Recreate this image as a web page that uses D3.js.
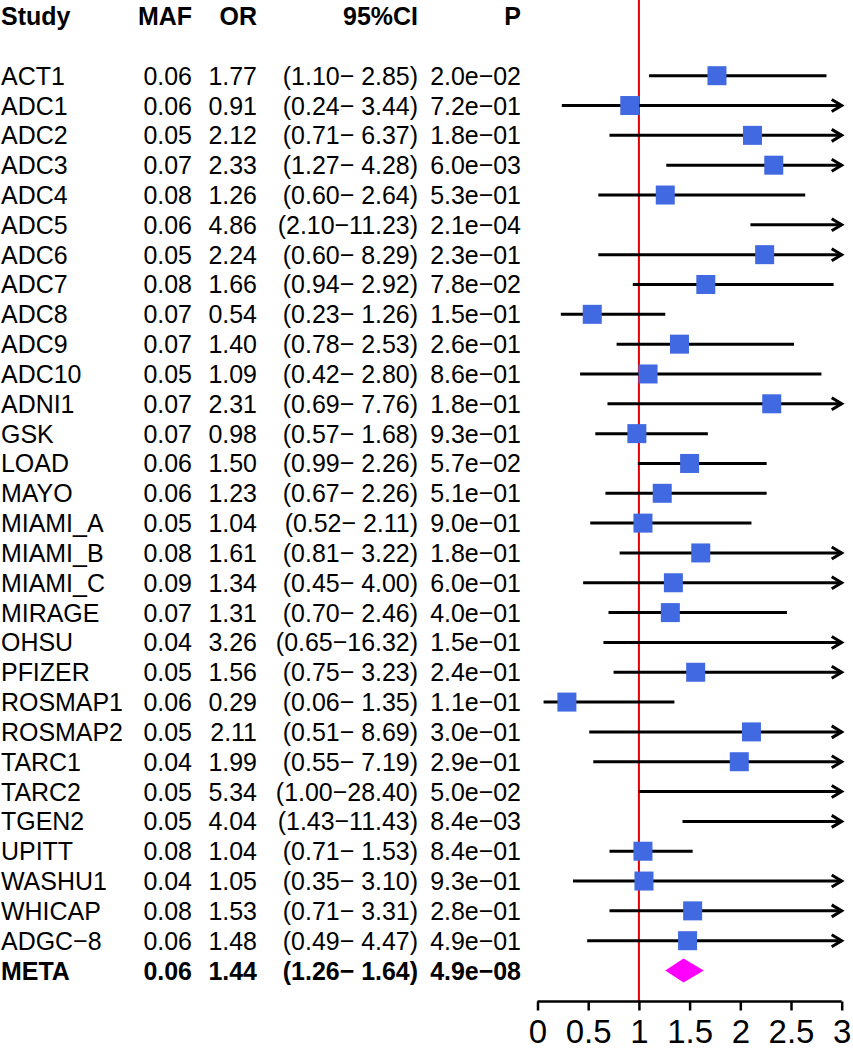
<!DOCTYPE html>
<html><head><meta charset="utf-8">
<script src="https://cdn.jsdelivr.net/npm/d3@7/dist/d3.min.js"></script>
<style>
html,body{margin:0;padding:0;background:#fff;}
svg{display:block;font-family:"Liberation Sans",Arial,sans-serif;}
</style></head>
<body>
<svg id="chart" width="853" height="1050"></svg>
<script>
const studies = ["ACT1","ADC1","ADC2","ADC3","ADC4","ADC5","ADC6","ADC7","ADC8","ADC9","ADC10","ADNI1","GSK","LOAD","MAYO","MIAMI_A","MIAMI_B","MIAMI_C","MIRAGE","OHSU","PFIZER","ROSMAP1","ROSMAP2","TARC1","TARC2","TGEN2","UPITT","WASHU1","WHICAP","ADGC\u22128","META"];
const maf = [0.06,0.06,0.05,0.07,0.08,0.06,0.05,0.08,0.07,0.07,0.05,0.07,0.07,0.06,0.06,0.05,0.08,0.09,0.07,0.04,0.05,0.06,0.05,0.04,0.05,0.05,0.08,0.04,0.08,0.06,0.06];
const oddsRatio = [1.77,0.91,2.12,2.33,1.26,4.86,2.24,1.66,0.54,1.40,1.09,2.31,0.98,1.50,1.23,1.04,1.61,1.34,1.31,3.26,1.56,0.29,2.11,1.99,5.34,4.04,1.04,1.05,1.53,1.48,1.44];
const ciLow = [1.10,0.24,0.71,1.27,0.60,2.10,0.60,0.94,0.23,0.78,0.42,0.69,0.57,0.99,0.67,0.52,0.81,0.45,0.70,0.65,0.75,0.06,0.51,0.55,1.00,1.43,0.71,0.35,0.71,0.49,1.26];
const ciHigh = [2.85,3.44,6.37,4.28,2.64,11.23,8.29,2.92,1.26,2.53,2.80,7.76,1.68,2.26,2.26,2.11,3.22,4.00,2.46,16.32,3.23,1.35,8.69,7.19,28.40,11.43,1.53,3.10,3.31,4.47,1.64];
const pValues = ["2.0e\u221202","7.2e\u221201","1.8e\u221201","6.0e\u221203","5.3e\u221201","2.1e\u221204","2.3e\u221201","7.8e\u221202","1.5e\u221201","2.6e\u221201","8.6e\u221201","1.8e\u221201","9.3e\u221201","5.7e\u221202","5.1e\u221201","9.0e\u221201","1.8e\u221201","6.0e\u221201","4.0e\u221201","1.5e\u221201","2.4e\u221201","1.1e\u221201","3.0e\u221201","2.9e\u221201","5.0e\u221202","8.4e\u221203","8.4e\u221201","9.3e\u221201","2.8e\u221201","4.9e\u221201","4.9e\u221208"];
const headers = ["Study","MAF","OR","95%CI","P"];
const tickValues = [0,0.5,1,1.5,2,2.5,3];
const metaLabel = "META";

const svg = d3.select("#chart");
const x = d3.scaleLinear().domain([0,3]).range([537.5,841.7]);
const y = d3.scaleLinear().domain([0,29]).range([75.7,940.7]);
const fs = 26;
const sx = 0.96;
const colRight = {maf:192, or:257, ci:418, p:521};
const minus = "\u2212";
const pad5 = v => { const s = v.toFixed(2); return s.length < 5 ? " " + s : s; };

function txt(g, xx, yy, str, anchor) {
  return g.append("text")
    .attr("transform", `translate(${xx},${yy}) scale(${sx},1)`)
    .attr("text-anchor", anchor || "start")
    .style("white-space","pre")
    .text(str);
}

// headers
const hy = 25;
const hg = svg.append("g").attr("font-weight","bold").attr("font-size",fs);
txt(hg, 1, hy, headers[0]);
txt(hg, colRight.maf, hy, headers[1], "end");
txt(hg, colRight.or, hy, headers[2], "end");
txt(hg, colRight.ci, hy, headers[3], "end");
txt(hg, colRight.p, hy, headers[4], "end");

// red reference line
svg.append("line").attr("x1",x(1)).attr("x2",x(1)).attr("y1",0).attr("y2",1001)
  .attr("stroke","#e00000").attr("stroke-width",2);

// rows
studies.forEach((s,i)=>{
  const yy = y(i);
  const isMeta = s === metaLabel;
  const g = svg.append("g").attr("font-size",fs).attr("font-weight", isMeta ? "bold" : "normal");
  const by = yy + 9;
  txt(g, 1, by, s);
  txt(g, colRight.maf, by, maf[i].toFixed(2), "end");
  txt(g, colRight.or, by, oddsRatio[i].toFixed(2), "end");
  txt(g, colRight.ci, by, "(" + ciLow[i].toFixed(2) + minus + pad5(ciHigh[i]) + ")", "end");
  txt(g, colRight.p, by, pValues[i], "end");

  if (isMeta) {
    const xl = x(ciLow[i]), xr = x(ciHigh[i]), xm = x(oddsRatio[i]);
    svg.append("path").attr("d",`M${xl},${yy} L${xm},${yy-12} L${xr},${yy} L${xm},${yy+12} Z`)
      .attr("fill","#ff00ff");
  } else {
    const lo = Math.max(ciLow[i],0), hi = Math.min(ciHigh[i],3);
    svg.append("line").attr("x1",x(lo)).attr("x2",x(hi)).attr("y1",yy).attr("y2",yy)
      .attr("stroke","#000").attr("stroke-width",3);
    if (ciHigh[i] > 3) {
      const tx = x(3);
      svg.append("path").attr("d",`M${tx-10},${yy-6} L${tx},${yy} L${tx-10},${yy+6}`)
        .attr("fill","none").attr("stroke","#000").attr("stroke-width",3);
    }
    if (oddsRatio[i] <= 3) {
      const b = 19;
      svg.append("rect").attr("x",x(oddsRatio[i])-b/2).attr("y",yy-b/2).attr("width",b).attr("height",b)
        .attr("fill","#4169e1");
    }
  }
});

// axis
const axisY = 1001.5;
const axis = d3.axisBottom(x).tickValues(tickValues).tickSize(9).tickPadding(4)
  .tickFormat(d => String(d));
const ag = svg.append("g").attr("transform",`translate(0,${axisY})`).call(axis);
ag.select(".domain").attr("stroke","#000").attr("stroke-width",2.5).attr("d",`M${x(0)},0H${x(3)}`);
ag.selectAll(".tick line").attr("stroke","#000").attr("stroke-width",2.5);
ag.selectAll(".tick text").attr("font-size",33).attr("font-family","Liberation Sans, Arial, sans-serif")
  .attr("fill","#000").attr("dy",null).attr("y",1042.5 - axisY);
</script>
</body></html>
